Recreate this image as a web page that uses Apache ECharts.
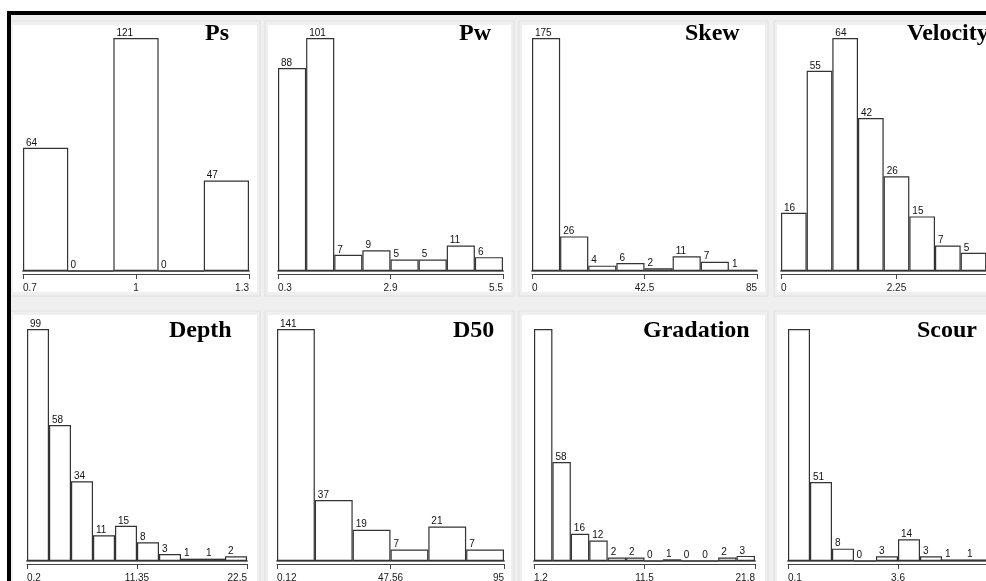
<!DOCTYPE html>
<html>
<head>
<meta charset="utf-8">
<script src="https://cdn.jsdelivr.net/npm/echarts@6/dist/echarts.min.js"></script>
<style>
html,body{margin:0;padding:0;background:#fff;}
#chart{width:986px;height:581px;}
</style>
</head>
<body>
<div id="chart"></div>
<script>
// ---- data ----
const titles = ['Ps', 'Pw', 'Skew', 'Velocity', 'Depth', 'D50', 'Gradation', 'Scour'];
const psCounts = [64, 0, 121, 0, 47];
const pwCounts = [88, 101, 7, 9, 5, 5, 11, 6];
const skewCounts = [175, 26, 4, 6, 2, 11, 7, 1];
const velocityCounts = [16, 55, 64, 42, 26, 15, 7, 5, 2];
const depthCounts = [99, 58, 34, 11, 15, 8, 3, 1, 1, 2];
const d50Counts = [141, 37, 19, 7, 21, 7];
const gradationCounts = [136, 58, 16, 12, 2, 2, 0, 1, 0, 0, 2, 3];
const scourCounts = [150, 51, 8, 0, 3, 14, 3, 1, 1, 1];

const psTicks = ['0.7', '1', '1.3'];
const pwTicks = ['0.3', '2.9', '5.5'];
const skewTicks = ['0', '42.5', '85'];
const velocityTicks = ['0', '2.25', '4.5'];
const depthTicks = ['0.2', '11.35', '22.5'];
const d50Ticks = ['0.12', '47.56', '95'];
const gradationTicks = ['1.2', '11.5', '21.8'];
const scourTicks = ['0.1', '3.6', '7.1'];

const allCounts = [psCounts, pwCounts, skewCounts, velocityCounts, depthCounts, d50Counts, gradationCounts, scourCounts];
const allTicks = [psTicks, pwTicks, skewTicks, velocityTicks, depthTicks, d50Ticks, gradationTicks, scourTicks];

// ---- layout (pixels) ----
const layout = [
  {left: 23,  width: 226, top: 38,  base: 271, tx: 205, ty: 22,  hideFirst: false},
  {left: 278, width: 225, top: 38,  base: 271, tx: 459, ty: 22,  hideFirst: false},
  {left: 532, width: 225, top: 38,  base: 271, tx: 685, ty: 22,  hideFirst: false},
  {left: 781, width: 231, top: 38,  base: 271, tx: 907, ty: 22,  hideFirst: false},
  {left: 27,  width: 220, top: 329, base: 561, tx: 169, ty: 319, hideFirst: false},
  {left: 277, width: 227, top: 329, base: 561, tx: 453, ty: 319, hideFirst: false},
  {left: 534, width: 221, top: 329, base: 561, tx: 643, ty: 319, hideFirst: true},
  {left: 788, width: 220, top: 329, base: 561, tx: 917, ty: 319, hideFirst: true}
];
const whiteRows = [{y: 25, h: 267}, {y: 315, h: 266}];
const whiteCols = [[13, 244], [268, 243], [522, 243], [777, 220]];

const grid = [], xAxis = [], yAxis = [], series = [];
const graphics = [];

// background
graphics.push({type: 'rect', z: -100, shape: {x: 11, y: 15, width: 975, height: 566}, style: {fill: '#efefef'}});
whiteRows.forEach((r, ri) => {
  whiteCols.forEach((c, ci) => {
    graphics.push({type: 'rect', z: -99, shape: {x: c[0] - 3, y: r.y - 4, width: c[1] + 6, height: r.h + 8},
      style: {fill: 'none', stroke: '#e0e0e0', lineWidth: 1}});
    graphics.push({type: 'rect', z: -98, shape: {x: c[0], y: r.y, width: c[1], height: r.h}, style: {fill: '#ffffff'}});
  });
});
graphics.push({type: 'rect', z: 50, shape: {x: 7, y: 11, width: 979, height: 4}, style: {fill: '#000'}});
graphics.push({type: 'rect', z: 50, shape: {x: 7, y: 11, width: 4, height: 570}, style: {fill: '#000'}});

allCounts.forEach((counts, i) => {
  const L = layout[i];
  const ticks = allTicks[i];
  const tv = ticks.map(Number);
  grid.push({left: L.left, top: L.top, width: L.width, height: L.base - L.top, containLabel: false, outerBoundsMode: 'none'});
  // category axis for bins (draws baseline)
  xAxis.push({
    type: 'category', gridIndex: i, data: counts.map((_, j) => 'bin' + j), boundaryGap: true,
    axisLine: {show: true, lineStyle: {color: '#7a7a7a', width: 2}},
    axisTick: {show: false}, axisLabel: {show: false}, splitLine: {show: false}
  });
  // ruler axis
  xAxis.push({
    type: 'value', gridIndex: i, position: 'bottom', offset: 3, min: tv[0], max: tv[2],
    axisLine: {show: true, lineStyle: {color: '#444', width: 1}},
    axisTick: {show: true, length: 5, customValues: tv, lineStyle: {color: '#444', width: 1}},
    axisLabel: {show: true, customValues: tv, fontSize: 10, color: '#1a1a1a', fontFamily: 'Liberation Sans', margin: 9,
      alignMinLabel: 'left', alignMaxLabel: 'right',
      formatter: function (v) {
        let best = 0;
        tv.forEach((t, k) => { if (Math.abs(t - v) < Math.abs(tv[best] - v)) best = k; });
        return ticks[best];
      }},
    splitLine: {show: false}
  });
  yAxis.push({type: 'value', gridIndex: i, min: 0, max: Math.max.apply(null, counts), show: false, splitLine: {show: false}});
  series.push({
    type: 'bar', xAxisIndex: 2 * i, yAxisIndex: i, barCategoryGap: '0%', barGap: '0%',
    data: counts.map((v, j) => ({value: v, label: {show: !(L.hideFirst && j === 0)}})),
    itemStyle: {color: '#ffffff', borderColor: '#333333', borderWidth: 1.2},
    label: {show: true, position: [3, -10], fontSize: 10, color: '#111', fontFamily: 'Liberation Sans'},
    silent: true, animation: false
  });
  graphics.push({type: 'text', z: 40, style: {text: titles[i], x: L.tx, y: L.ty,
    font: 'bold 24px "Liberation Serif"', fill: '#000', textVerticalAlign: 'top'}});
});

const chart = echarts.init(document.getElementById('chart'), null, {renderer: 'canvas'});
chart.setOption({
  backgroundColor: '#ffffff',
  animation: false,
  grid: grid, xAxis: xAxis, yAxis: yAxis, series: series,
  graphic: {elements: graphics}
});
</script>
</body>
</html>
